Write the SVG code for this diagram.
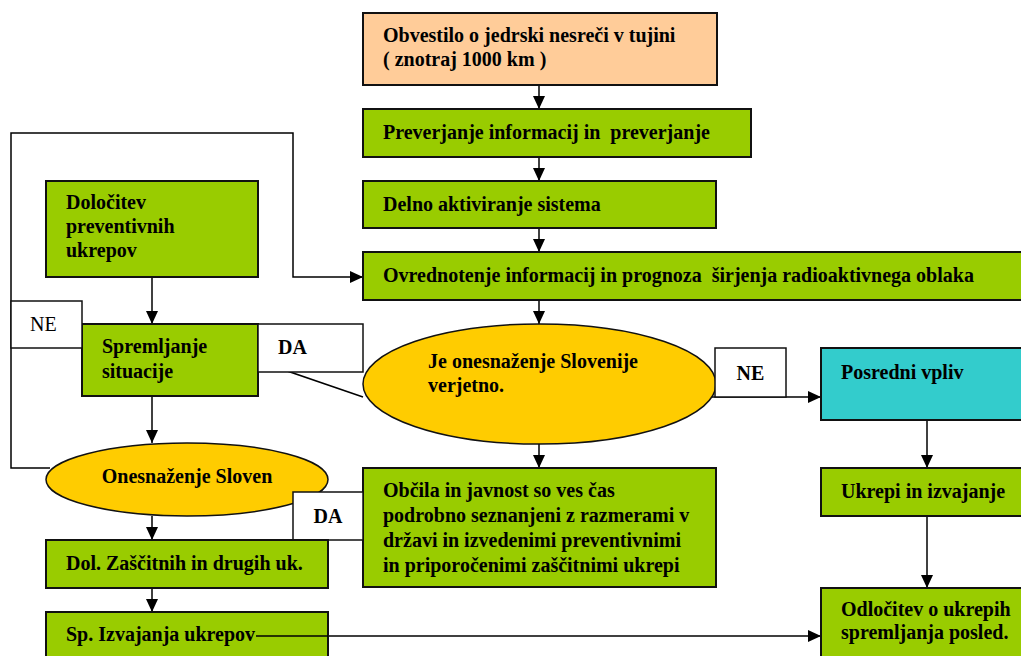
<svg xmlns="http://www.w3.org/2000/svg" width="1021" height="656" viewBox="0 0 1021 656">
<defs>
<marker id="ah" markerUnits="userSpaceOnUse" markerWidth="14" markerHeight="14" refX="13" refY="7" orient="auto">
<path d="M0,1 L13,7 L0,13 Z" fill="#000"/>
</marker>
<style>
.g{fill:#99CC00;stroke:#111;stroke-width:2}
.p{fill:#FFCC99;stroke:#111;stroke-width:2}
.c{fill:#33CCCC;stroke:#111;stroke-width:2}
.y{fill:#FFCC00;stroke:#111;stroke-width:1.5}
.w{fill:#fff;stroke:#111;stroke-width:1.5}
.t{font-family:"Liberation Serif","Times New Roman",serif;font-size:20px;font-weight:bold;fill:#000;white-space:pre}
.n{font-family:"Liberation Serif","Times New Roman",serif;font-size:20px;fill:#000}
.l{fill:none;stroke:#000;stroke-width:1.5}
</style>
</defs>
<rect width="1021" height="656" fill="#fff"/>
<g id="connectors">
<line class="l" x1="539" y1="85" x2="539" y2="109" marker-end="url(#ah)"/>
<line class="l" x1="539" y1="157" x2="539" y2="181" marker-end="url(#ah)"/>
<line class="l" x1="539" y1="228" x2="539" y2="252" marker-end="url(#ah)"/>
<line class="l" x1="539" y1="300" x2="539" y2="324" marker-end="url(#ah)"/>
<line class="l" x1="539" y1="444" x2="539" y2="468" marker-end="url(#ah)"/>
<polyline class="l" points="50,468 11,468 11,133 293,133 293,277 363,277" marker-end="url(#ah)"/>
<line class="l" x1="152" y1="277" x2="152" y2="324" marker-end="url(#ah)"/>
<line class="l" x1="152" y1="396" x2="152" y2="443" marker-end="url(#ah)"/>
<line class="l" x1="152" y1="516" x2="152" y2="540" marker-end="url(#ah)"/>
<line class="l" x1="152" y1="588" x2="152" y2="612" marker-end="url(#ah)"/>
<line class="l" x1="363" y1="397" x2="223" y2="349" marker-end="url(#ah)"/>
<line class="l" x1="712" y1="397" x2="821" y2="397" marker-end="url(#ah)"/>
<line class="l" x1="927" y1="420" x2="927" y2="468" marker-end="url(#ah)"/>
<line class="l" x1="927" y1="516" x2="927" y2="588" marker-end="url(#ah)"/>
<line class="l" x1="256" y1="636" x2="821" y2="636" marker-end="url(#ah)"/>
</g>
<g id="n1"><rect class="p" x="363" y="13" width="354" height="72"/>
<text class="t" x="383" y="42">Obvestilo o jedrski nesreči v tujini</text>
<text class="t" x="383" y="66">( znotraj 1000 km )</text></g>
<g id="n2"><rect class="g" x="363" y="109" width="388" height="48"/>
<text class="t" x="383" y="139">Preverjanje informacij in  preverjanje</text></g>
<g id="n3"><rect class="g" x="363" y="181" width="353" height="47"/>
<text class="t" x="383" y="211">Delno aktiviranje sistema</text></g>
<g id="n4"><rect class="g" x="363" y="252" width="670" height="48"/>
<text class="t" x="383" y="282">Ovrednotenje informacij in prognoza  širjenja radioaktivnega oblaka</text></g>
<g id="n5"><rect class="g" x="46" y="181" width="212" height="96"/>
<text class="t" x="66" y="209">Določitev</text>
<text class="t" x="66" y="233">preventivnih</text>
<text class="t" x="66" y="257">ukrepov</text></g>
<g id="n6"><rect class="g" x="82" y="324" width="176" height="72"/>
<text class="t" x="102" y="353">Spremljanje</text>
<text class="t" x="102" y="378">situacije</text></g>
<g id="ne1"><rect class="w" x="11" y="301" width="71" height="47"/>
<text class="n" x="30" y="331">NE</text></g>
<g id="da1"><rect class="w" x="258" y="324" width="105" height="48"/>
<text class="t" x="278" y="354">DA</text></g>
<g id="n7"><ellipse class="y" cx="539.5" cy="384" rx="176.5" ry="60"/>
<text class="t" x="428" y="368">Je onesnaženje Slovenije</text>
<text class="t" x="428" y="392">verjetno.</text></g>
<g id="ne2"><rect class="w" x="715" y="348" width="71" height="49"/>
<text class="t" x="750.5" y="380" text-anchor="middle">NE</text></g>
<g id="n8"><rect class="c" x="821" y="348" width="212" height="72"/>
<text class="t" x="841" y="379">Posredni vpliv</text></g>
<g id="n9"><ellipse class="y" cx="187" cy="479.5" rx="141" ry="36.5"/>
<text class="t" x="187" y="483" text-anchor="middle">Onesnaženje Sloven</text></g>
<g id="n10"><rect class="g" x="363" y="468" width="353" height="119"/>
<text class="t" x="383" y="497">Občila in javnost so ves čas</text>
<text class="t" x="383" y="522">podrobno seznanjeni z razmerami v</text>
<text class="t" x="383" y="547">državi in izvedenimi preventivnimi</text>
<text class="t" x="383" y="572">in priporočenimi zaščitnimi ukrepi</text></g>
<g id="da2"><rect class="w" x="293" y="492" width="70" height="48"/>
<text class="t" x="328" y="523" text-anchor="middle">DA</text></g>
<g id="n11"><rect class="g" x="821" y="468" width="212" height="48"/>
<text class="t" x="841" y="498">Ukrepi in izvajanje</text></g>
<g id="n12"><rect class="g" x="46" y="540" width="282" height="48"/>
<text class="t" x="66" y="570">Dol. Zaščitnih in drugih uk.</text></g>
<g id="n13"><rect class="g" x="46" y="612" width="282" height="60"/>
<text class="t" x="66" y="641">Sp. Izvajanja ukrepov</text></g>
<line class="l" x1="256" y1="636" x2="328" y2="636"/>
<g id="n14"><rect class="g" x="821" y="588" width="212" height="80"/>
<text class="t" x="841" y="616">Odločitev o ukrepih</text>
<text class="t" x="841" y="639">spremljanja posled.</text></g>
</svg>
